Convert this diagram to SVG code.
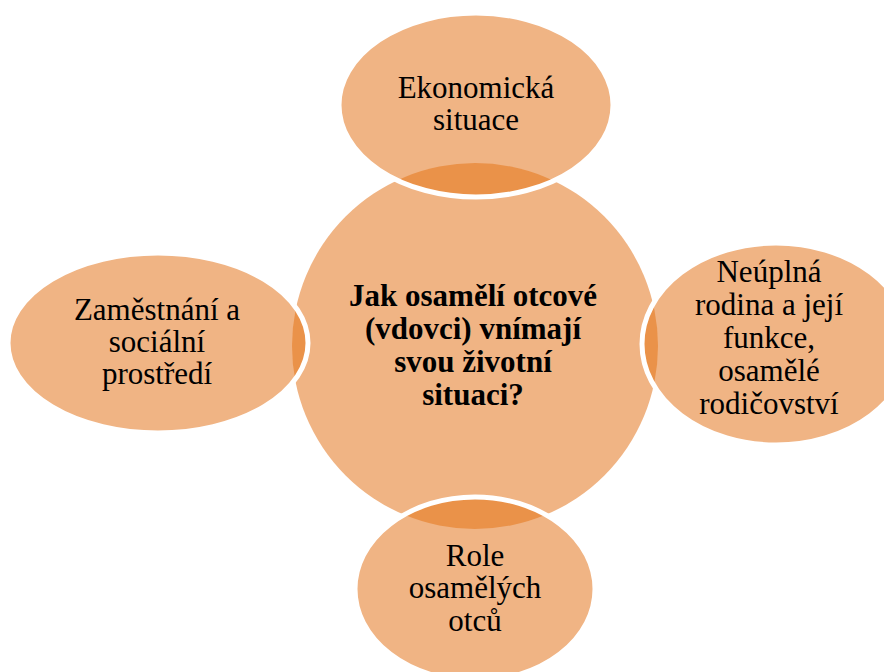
<svg xmlns="http://www.w3.org/2000/svg" width="884" height="672" viewBox="0 0 884 672">
<style>
.fill{fill:#F0B484;}
.lens{fill:#EA9249;}
.edge{fill:none;stroke:#FFFFFF;stroke-width:5;}
.t{font-family:"Liberation Serif","Times New Roman",serif;font-size:31px;fill:#000;text-anchor:middle;}
.b{font-weight:bold;}
</style>
<defs>
<clipPath id="cc"><circle cx="475" cy="346" r="183"/></clipPath>
</defs>
<rect width="884" height="672" fill="#FFFFFF"/>
<g id="center">
<circle class="fill" cx="475" cy="346" r="183"/>
</g>
<g id="top">
<ellipse class="fill" cx="476" cy="105" rx="137" ry="92"/>
<ellipse class="lens" cx="476" cy="105" rx="137" ry="92" clip-path="url(#cc)"/>
<ellipse class="edge" cx="476" cy="105" rx="137" ry="92"/>
<text class="t" x="476" y="98">Ekonomická</text>
<text class="t" x="476" y="130">situace</text>
</g>
<g id="right">
<ellipse class="fill" cx="776" cy="344" rx="134" ry="101"/>
<ellipse class="lens" cx="776" cy="344" rx="134" ry="101" clip-path="url(#cc)"/>
<ellipse class="edge" cx="776" cy="344" rx="134" ry="101"/>
<text class="t" x="769" y="282">Neúplná</text>
<text class="t" x="769" y="315">rodina a její</text>
<text class="t" x="769" y="348">funkce,</text>
<text class="t" x="769" y="381">osamělé</text>
<text class="t" x="769" y="414">rodičovství</text>
</g>
<g id="bottom">
<ellipse class="fill" cx="475" cy="589" rx="120" ry="92"/>
<ellipse class="lens" cx="475" cy="589" rx="120" ry="92" clip-path="url(#cc)"/>
<ellipse class="edge" cx="475" cy="589" rx="120" ry="92"/>
<text class="t" x="475" y="566">Role</text>
<text class="t" x="475" y="598">osamělých</text>
<text class="t" x="475" y="631">otců</text>
</g>
<g id="left">
<ellipse class="fill" cx="158" cy="343" rx="150" ry="90"/>
<ellipse class="lens" cx="158" cy="343" rx="150" ry="90" clip-path="url(#cc)"/>
<ellipse class="edge" cx="158" cy="343" rx="150" ry="90"/>
<text class="t" x="157" y="320">Zaměstnání a</text>
<text class="t" x="157" y="352">sociální</text>
<text class="t" x="157" y="384">prostředí</text>
</g>
<g id="center-label">
<text class="t b" x="473" y="306">Jak osamělí otcové</text>
<text class="t b" x="473" y="339">(vdovci) vnímají</text>
<text class="t b" x="473" y="372">svou životní</text>
<text class="t b" x="473" y="405">situaci?</text>
</g>
<g id="connectors"></g>
</svg>
